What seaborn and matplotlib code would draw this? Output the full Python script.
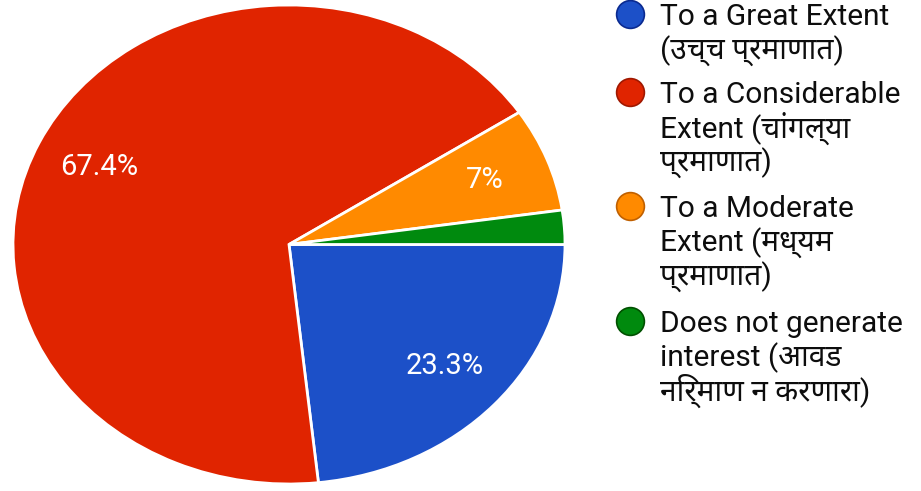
import matplotlib
matplotlib.use("Agg")
import matplotlib.pyplot as plt
import seaborn as sns
from matplotlib.lines import Line2D

# data
labels = [
    "To a Great Extent\n(उच्च प्रमाणात)",
    "To a Considerable\nExtent (चांगल्या\nप्रमाणात)",
    "To a Moderate\nExtent (मध्यम\nप्रमाणात)",
    "Does not generate\ninterest (आवड\nनिर्माण न करणारा)",
]
shares = [23.3, 67.4, 7.0, 2.3]
colors = ["#1c50c8", "#e02400", "#ff8a00", "#008a0e"]
edge_colors = ["#0a2a90", "#a01800", "#c06000", "#005000"]

sns.set_theme(style="white")
plt.rcParams['font.family'] = ['Roboto', 'Noto Sans Devanagari', 'Mukta', 'Ek Mukta',
                               'Annapurna SIL', 'FreeSans', 'DejaVu Sans']


def pct_label(p):
    # small slices get no label, like Google Forms
    if p < 5:
        return ""
    return f"{round(p, 1):g}%"


fig = plt.figure(figsize=(9.21, 4.91), dpi=100)
W, H = 921, 491
ax = fig.add_axes([13 / W, (H - 484) / H, 552 / W, 479 / H])

wedges, texts, autotexts = ax.pie(
    shares, colors=colors, startangle=0, counterclock=False,
    autopct=pct_label, pctdistance=0.76,
    wedgeprops=dict(edgecolor="white", linewidth=2),
    textprops=dict(color="white", fontsize=21),
)
ax.set_aspect("auto")
ax.set_xlim(-1, 1)
ax.set_ylim(-1, 1)
ax.axis("off")

# legend drawn by hand so the dot sits on the first line of each entry
first_baselines = [25, 103, 217, 332]
line_step = 34.5
for lab, c, e, y0 in zip(labels, colors, edge_colors, first_baselines):
    fig.add_artist(Line2D([630 / W], [1 - (y0 - 11) / H], marker="o", linestyle="none",
                          markersize=20, markerfacecolor=c, markeredgecolor=e,
                          markeredgewidth=1.2, transform=fig.transFigure))
    for i, line in enumerate(lab.split("\n")):
        fig.text(660 / W, 1 - (y0 + i * line_step) / H, line, fontsize=21.5,
                 color="#0d0d0d", va="baseline", ha="left")

fig.savefig("out.png", dpi=100)
